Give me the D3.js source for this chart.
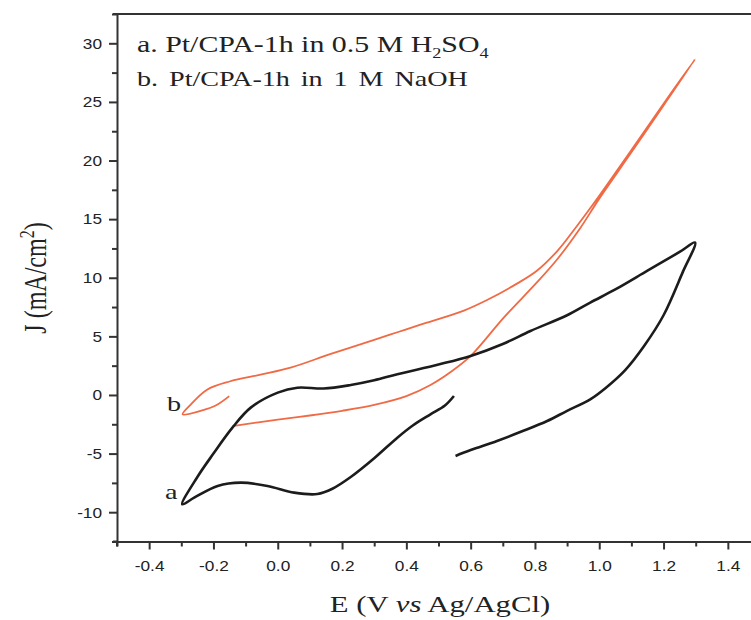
<!DOCTYPE html>
<html>
<head>
<meta charset="utf-8">
<script src="https://cdn.jsdelivr.net/npm/d3@7"></script>
<style>
  body { margin: 0; background: #fff; }
  svg { display: block; }
</style>
</head>
<body>
<main></main>
<script>
const width = 751;
const height = 620;

// curve a: Pt/CPA-1h in 0.5 M H2SO4, [E, J]
const curveA = [
  [0.548, -0.09], [0.52, -0.9], [0.475, -1.65], [0.42, -2.6], [0.372, -3.64],
  [0.3, -5.4], [0.227, -7.0], [0.17, -8.0], [0.123, -8.45], [0.051, -8.33],
  [-0.032, -7.76], [-0.115, -7.48], [-0.187, -7.76], [-0.26, -8.76], [-0.297, -9.33],
  [-0.25, -7.0], [-0.2, -5.0], [-0.141, -2.79], [-0.084, -1.08], [0.0, 0.2],
  [0.061, 0.62], [0.143, 0.55], [0.227, 0.85], [0.3, 1.25], [0.372, 1.77],
  [0.5, 2.6], [0.6, 3.33], [0.7, 4.35], [0.786, 5.46], [0.9, 6.8], [0.972, 7.88],
  [1.05, 9.0], [1.15, 10.6], [1.25, 12.2], [1.298, 13.0],
  [1.26, 10.5], [1.2, 6.8], [1.14, 4.2], [1.08, 2.1], [1.02, 0.6], [0.972, -0.37],
  [0.9, -1.35], [0.838, -2.22], [0.76, -3.1], [0.682, -3.92], [0.6, -4.7], [0.553, -5.2],
];

// curve b: Pt/CPA-1h in 1 M NaOH, [E, J]
const curveB = [
  [-0.141, -2.65], [0.0, -2.1], [0.1, -1.75], [0.2, -1.35], [0.3, -0.85],
  [0.4, -0.1], [0.475, 0.85], [0.54, 2.0], [0.6, 3.33], [0.703, 6.6], [0.806, 9.6],
  [0.87, 11.6], [0.94, 14.2], [1.0, 16.75], [1.1, 20.7], [1.2, 24.7], [1.298, 28.64],
  [1.2, 24.85], [1.1, 20.9], [1.0, 17.0], [0.93, 14.4], [0.87, 12.3], [0.806, 10.6],
  [0.744, 9.5], [0.651, 8.1], [0.579, 7.2], [0.444, 6.0], [0.372, 5.35], [0.3, 4.7],
  [0.165, 3.5], [0.04, 2.33], [-0.05, 1.75], [-0.15, 1.15], [-0.22, 0.45],
  [-0.27, -0.8], [-0.296, -1.65],
  [-0.24, -1.35], [-0.19, -0.85], [-0.151, -0.1],
];

const xTicks = [-0.4, -0.2, 0.0, 0.2, 0.4, 0.6, 0.8, 1.0, 1.2, 1.4];
const xMinor = [-0.5, -0.3, -0.1, 0.1, 0.3, 0.5, 0.7, 0.9, 1.1, 1.3, 1.5];
const yTicks = [-10, -5, 0, 5, 10, 15, 20, 25, 30];
const yMinor = [-12.5, -7.5, -2.5, 2.5, 7.5, 12.5, 17.5, 22.5, 27.5, 32.5];

const margin = { left: 117, top: 14 };
const plotW = 643;
const plotH = 527.5;
const stretch = 1.28; // the reference text is wider than its height suggests

const svg = d3
  .select("main")
  .append("svg")
  .attr("width", width)
  .attr("height", height);

const x = d3.scaleLinear().domain([-0.5, 1.5]).range([margin.left, margin.left + plotW]);
const y = d3.scaleLinear().domain([-12.5, 32.5]).range([margin.top + plotH, margin.top]);

const bottom = margin.top + plotH;

// top border (right border falls outside the picture)
svg
  .append("line")
  .attr("x1", margin.left - 4)
  .attr("x2", margin.left + plotW)
  .attr("y1", margin.top)
  .attr("y2", margin.top)
  .attr("stroke", "#333")
  .attr("stroke-width", 2);

// minor ticks
svg
  .append("g")
  .attr("transform", `translate(0, ${bottom})`)
  .call(d3.axisBottom(x).tickValues(xMinor).tickSize(5).tickFormat("").tickSizeOuter(0))
  .call((g) => g.select(".domain").remove())
  .selectAll("line")
  .attr("stroke", "#333")
  .attr("stroke-width", 2);

svg
  .append("g")
  .attr("transform", `translate(${margin.left}, 0)`)
  .call(d3.axisLeft(y).tickValues(yMinor).tickSize(5).tickFormat("").tickSizeOuter(0))
  .call((g) => g.select(".domain").remove())
  .selectAll("line")
  .attr("stroke", "#333")
  .attr("stroke-width", 2);

// major axes (hyphen minus like the reference)
const xAxis = svg
  .append("g")
  .attr("transform", `translate(0, ${bottom})`)
  .call(
    d3.axisBottom(x).tickValues(xTicks).tickSize(8).tickPadding(11).tickSizeOuter(0)
      .tickFormat((d) => d.toFixed(1))
  );

const yAxis = svg
  .append("g")
  .attr("transform", `translate(${margin.left}, 0)`)
  .call(
    d3.axisLeft(y).tickValues(yTicks).tickSize(8).tickPadding(5).tickSizeOuter(0)
      .tickFormat((d) => String(d))
  );

[xAxis, yAxis].forEach((ax) => {
  ax.select(".domain").attr("stroke", "#333").attr("stroke-width", 2);
  ax.selectAll(".tick line").attr("stroke", "#333").attr("stroke-width", 2);
  ax.selectAll("text")
    .attr("fill", "#222")
    .attr("transform", "scale(1.15, 1)")
    .style("font-family", "'Liberation Sans', Arial, sans-serif")
    .style("font-size", "15px");
});

// small overhang of the axis lines at the corner
svg
  .append("line")
  .attr("x1", margin.left)
  .attr("x2", margin.left)
  .attr("y1", bottom)
  .attr("y2", bottom + 5)
  .attr("stroke", "#333")
  .attr("stroke-width", 2);
svg
  .append("line")
  .attr("x1", margin.left - 4)
  .attr("x2", margin.left)
  .attr("y1", bottom)
  .attr("y2", bottom)
  .attr("stroke", "#333")
  .attr("stroke-width", 2);

// curves
const line = d3
  .line()
  .x((d) => x(d[0]))
  .y((d) => y(d[1]))
  .curve(d3.curveCatmullRom.alpha(0.5));

svg
  .append("path")
  .datum(curveB)
  .attr("d", line)
  .attr("fill", "none")
  .attr("stroke", "#f06a45")
  .attr("stroke-width", 1.8)
  .attr("stroke-linejoin", "round");

svg
  .append("path")
  .datum(curveA)
  .attr("d", line)
  .attr("fill", "none")
  .attr("stroke", "#1c1c1c")
  .attr("stroke-width", 2.6)
  .attr("stroke-linejoin", "round");

// text
const serif = "'Liberation Serif', 'Times New Roman', serif";

function label(px, py, size, sx = stretch) {
  return svg
    .append("text")
    .attr("transform", `translate(${px}, ${py}) scale(${sx}, 1)`)
    .style("font-family", serif)
    .style("font-size", `${size}px`)
    .attr("fill", "#222");
}

const leg1 = label(137, 52, 23, 1.3);
leg1.append("tspan").text("a. Pt/CPA-1h in 0.5 M H");
leg1.append("tspan").attr("dy", 6).style("font-size", "14px").text("2");
leg1.append("tspan").attr("dy", -6).text("SO");
leg1.append("tspan").attr("dy", 6).style("font-size", "14px").text("4");

label(137, 86, 22).style("word-spacing", "3px").text("b. Pt/CPA-1h in 1 M NaOH");

label(165, 499, 22).text("a");
label(167, 411, 22).text("b");

const xTitle = label(440, 612, 24).attr("text-anchor", "middle");
xTitle.append("tspan").text("E (V ");
xTitle.append("tspan").style("font-style", "italic").text("vs");
xTitle.append("tspan").text(" Ag/AgCl)");

const yTitle = svg
  .append("text")
  .attr("transform", `translate(46, 278) scale(${stretch}, 1) rotate(-90)`)
  .attr("text-anchor", "middle")
  .style("font-family", serif)
  .style("font-size", "24px")
  .attr("fill", "#222");
yTitle.append("tspan").text("J (mA/cm");
yTitle.append("tspan").attr("dy", -9).style("font-size", "16px").text("2");
yTitle.append("tspan").attr("dy", 9).text(")");
</script>
</body>
</html>
